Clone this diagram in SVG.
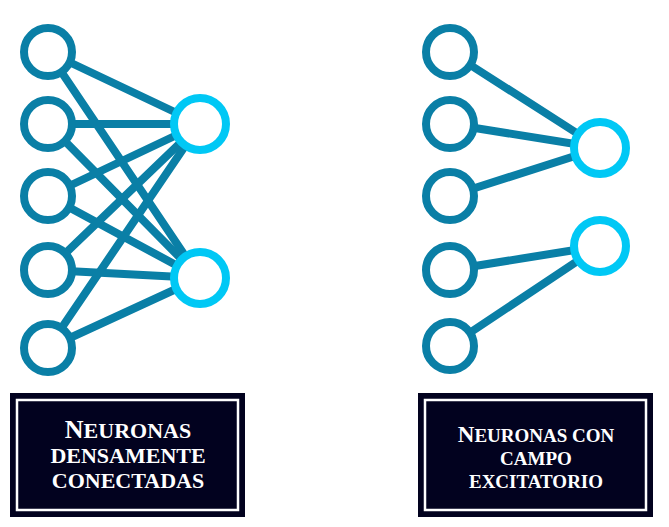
<svg xmlns="http://www.w3.org/2000/svg" width="669" height="527" viewBox="0 0 669 527">
<style>
.in{fill:#fff;stroke:#0a7fa6;stroke-width:8}
.out{fill:#fff;stroke:#00c8f5;stroke-width:8}
.c line{stroke:#0a7fa6;stroke-width:8;stroke-linecap:round}
.box{fill:#02021f}
.brd{fill:none;stroke:#fff;stroke-width:2.5}
.t{font-family:"Liberation Serif",serif;font-weight:bold;font-size:22px;fill:#fff;text-anchor:middle}
.s{font-size:19px}
.big{font-size:26px}
</style>
<rect width="669" height="527" fill="#fff"/>
<g class="c" id="connectors">
<line x1="48" y1="52" x2="200" y2="124"/><line x1="48" y1="52" x2="200" y2="278"/>
<line x1="48" y1="124" x2="200" y2="124"/><line x1="48" y1="124" x2="200" y2="278"/>
<line x1="48" y1="196" x2="200" y2="124"/><line x1="48" y1="196" x2="200" y2="278"/>
<line x1="48" y1="270" x2="200" y2="124"/><line x1="48" y1="270" x2="200" y2="278"/>
<line x1="48" y1="348" x2="200" y2="124"/><line x1="48" y1="348" x2="200" y2="278"/>
<line x1="450" y1="52" x2="600" y2="148"/><line x1="450" y1="124" x2="600" y2="148"/><line x1="450" y1="196" x2="600" y2="148"/>
<line x1="450" y1="270" x2="600" y2="246"/><line x1="450" y1="346" x2="600" y2="246"/>
</g>
<g id="L1"><circle class="in" cx="48" cy="52" r="24"/></g>
<g id="L2"><circle class="in" cx="48" cy="124" r="24"/></g>
<g id="L3"><circle class="in" cx="48" cy="196" r="24"/></g>
<g id="L4"><circle class="in" cx="48" cy="270" r="24"/></g>
<g id="L5"><circle class="in" cx="48" cy="348" r="24"/></g>
<g id="LO1"><circle class="out" cx="200" cy="124" r="26"/></g>
<g id="LO2"><circle class="out" cx="200" cy="278" r="26"/></g>
<g id="R1"><circle class="in" cx="450" cy="52" r="24"/></g>
<g id="R2"><circle class="in" cx="450" cy="124" r="24"/></g>
<g id="R3"><circle class="in" cx="450" cy="196" r="24"/></g>
<g id="R4"><circle class="in" cx="450" cy="270" r="24"/></g>
<g id="R5"><circle class="in" cx="450" cy="346" r="24"/></g>
<g id="RO1"><circle class="out" cx="600" cy="148" r="26"/></g>
<g id="RO2"><circle class="out" cx="600" cy="246" r="26"/></g>
<g id="boxL">
<rect class="box" x="10" y="393" width="235" height="124"/>
<rect class="brd" x="17" y="400" width="221" height="110"/>
<text class="t" x="128" y="438"><tspan class="big">N</tspan>EURONAS</text>
<text class="t" x="128" y="463">DENSAMENTE</text>
<text class="t" x="128" y="488">CONECTADAS</text>
</g>
<g id="boxR">
<rect class="box" x="418" y="393" width="235" height="124"/>
<rect class="brd" x="425" y="400" width="221" height="110"/>
<text class="t s" x="536" y="442"><tspan class="big" style="font-size:23px">N</tspan>EURONAS CON</text>
<text class="t s" x="536" y="465">CAMPO</text>
<text class="t s" x="536" y="488">EXCITATORIO</text>
</g>
</svg>
